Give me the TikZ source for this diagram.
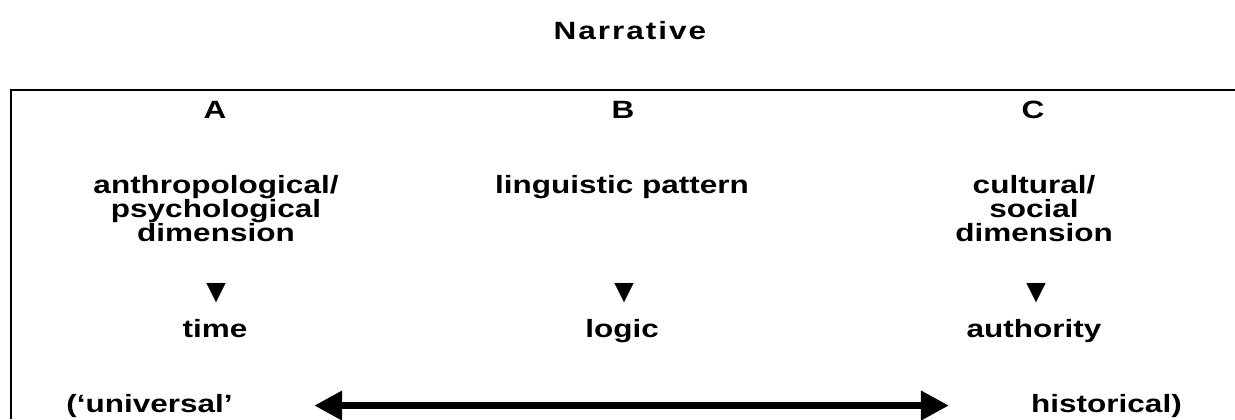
\documentclass[tikz,border=0pt]{standalone}
\usepackage{fontspec}
\setmainfont{Liberation Sans}[FakeStretch=1.26]
\newfontfamily\spacedsans{Liberation Sans}[FakeStretch=1.26, LetterSpace=8]
\newfontfamily\glyphsans{Liberation Sans}
\usetikzlibrary{arrows.meta}
\newcommand\bodyfont{\fontsize{18.75}{18}\selectfont\bfseries}

\begin{document}
\begin{tikzpicture}[x=0.75pt, y=-0.75pt,
    hd/.style={font=\bodyfont, inner sep=0pt, anchor=base},
    blk/.style={font=\bodyfont, inner sep=0pt, align=center, anchor=north},
    tri/.style={font=\fontsize{25}{25}\selectfont\glyphsans, inner sep=0pt},
    spanarrow/.style={line width=5.25pt, {Triangle[length=21pt,width=21pt]}-{Triangle[length=21pt,width=21pt]}}]
    \useasboundingbox (0,0) rectangle (1235,419);

    % title
    \node[hd, font=\fontsize{18.75}{18}\selectfont\spacedsans\bfseries] (title) at (630,39) {Narrative};

    % frame (open to the right and below)
    \draw[line width=1.7pt] (11,419) -- (11,90) -- (1235,90);

    % column A
    \node[hd] (A) at (215,118) {A};
    \node[blk] (dimA) at (216,175.5) {anthropological/\\psychological\\dimension};
    \node[tri] (triA) at (216,293) {▼};
    \node[hd] (time) at (215,337) {time};

    % column B
    \node[hd] (B) at (623,118) {B};
    \node[blk] (patB) at (622,175.5) {linguistic pattern};
    \node[tri] (triB) at (624,293) {▼};
    \node[hd] (logic) at (622,337) {logic};

    % column C
    \node[hd] (C) at (1033,118) {C};
    \node[blk] (dimC) at (1034,175.5) {cultural/\\social\\dimension};
    \node[tri] (triC) at (1036,293) {▼};
    \node[hd] (auth) at (1034,337) {authority};

    % range
    \node[hd, anchor=base west] (univ) at (66,412) {(‘universal’};
    \node[hd, anchor=base east] (hist) at (1182,412) {historical)};
    \draw[spanarrow, shorten <=61pt, shorten >=61.5pt] (univ) -- (hist);
\end{tikzpicture}
\end{document}
